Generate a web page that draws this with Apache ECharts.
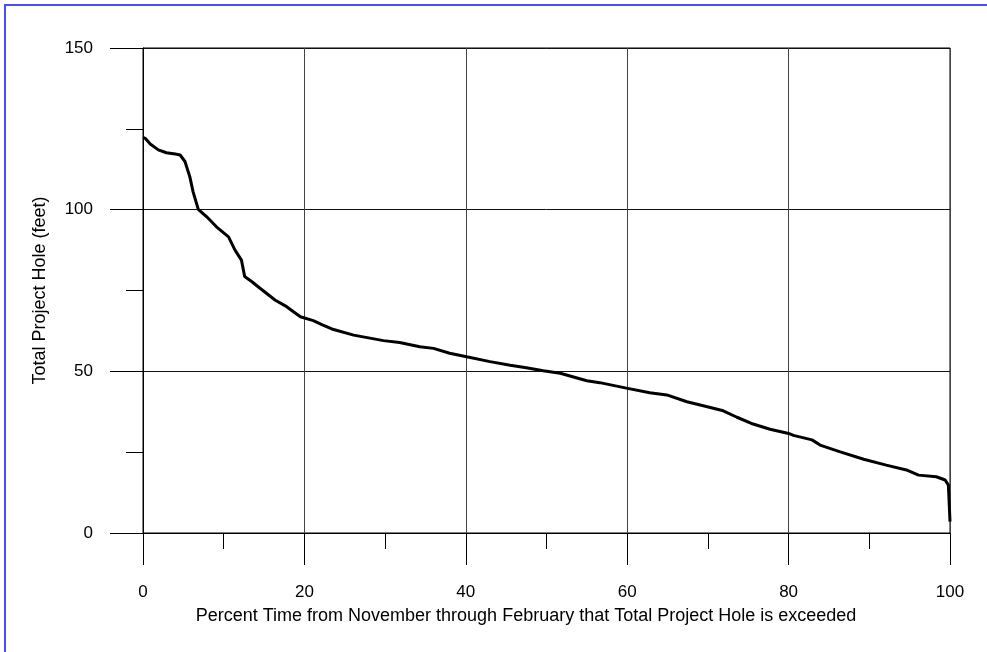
<!DOCTYPE html>
<html>
<head>
<meta charset="utf-8">
<script src="https://cdn.jsdelivr.net/npm/echarts@6/dist/echarts.min.js"></script>
<style>
html,body{margin:0;padding:0;background:#fff;}
#chart{width:987px;height:652px;}
</style>
</head>
<body>
<div id="chart"></div>
<script>
// Percent of time exceeded (x) and Total Project Hole in feet (y)
const pctTime = [0, 0.3, 0.9, 1.9, 2.9, 4.0, 4.6, 5.2, 5.8, 6.2, 6.85, 7.9, 9.1, 10.6, 11.4, 12.2, 12.6, 13.5, 14.5, 16.4, 17.8, 19.5, 21.1, 22.3, 23.4, 26.1, 29.8, 31.8, 34.3, 36.0, 38.0, 40.1, 43.0, 45.5, 47.5, 49.6, 51.7, 55.0, 56.6, 59.9, 62.8, 64.9, 67.4, 69.8, 71.9, 73.6, 75.6, 77.7, 80.0, 80.6, 82.9, 83.9, 86.4, 89.3, 92.1, 94.6, 96.1, 98.3, 99.4, 99.8, 100];
const holeFeet = [122.4, 122, 120.3, 118.5, 117.6, 117.2, 116.9, 114.9, 110.2, 105.6, 100.1, 97.8, 94.7, 91.6, 87.5, 84.4, 79.3, 77.7, 75.7, 72, 70, 66.9, 65.7, 64.3, 63.1, 61.2, 59.5, 58.9, 57.6, 57.1, 55.6, 54.5, 53.0, 51.9, 51.1, 50.2, 49.4, 47.1, 46.5, 44.8, 43.4, 42.7, 40.6, 39.1, 37.8, 35.8, 33.7, 32.1, 30.8, 30.2, 28.8, 27.2, 25.1, 22.8, 21.0, 19.5, 17.9, 17.4, 16.4, 14.8, 3.5];
const xTitle = 'Percent Time from November through February that Total Project Hole is exceeded';
const yTitle = 'Total Project Hole (feet)';

const FONT = '"Liberation Sans", Arial, sans-serif';
const chart = echarts.init(document.getElementById('chart'), null, {renderer: 'canvas'});
chart.setOption({
  animation: false,
  backgroundColor: '#fff',
  graphic: [{
    type: 'rect', z: 100,
    shape: {x: 5, y: 5, width: 3000, height: 3000},
    style: {fill: 'none', stroke: '#4a4aff', lineWidth: 2}
  }],
  title: {
    text: xTitle,
    left: 521, top: 602, textAlign: 'center',
    textStyle: {fontFamily: FONT, fontSize: 18, fontWeight: 'normal', color: '#000'}
  },
  grid: {left: 143, right: 37, top: 48, bottom: 119, show: true, borderColor: '#000', borderWidth: 1, backgroundColor: 'transparent'},
  xAxis: {
    type: 'value', min: 0, max: 100, interval: 20,
    axisLine: {show: true, onZero: false, lineStyle: {color: '#000', width: 1}},
    axisTick: {show: true, inside: false, length: 32, lineStyle: {color: '#000', width: 1}},
    minorTick: {show: true, splitNumber: 2, length: 16, lineStyle: {color: '#000', width: 1}},
    splitLine: {show: true, lineStyle: {color: '#444', width: 1}},
    axisLabel: {margin: 51, color: '#000', fontFamily: FONT, fontSize: 17}
  },
  yAxis: {
    type: 'value', min: 0, max: 150, interval: 50,
    name: yTitle, nameLocation: 'middle', nameGap: 94, nameRotate: 90,
    nameTextStyle: {fontFamily: FONT, fontSize: 18, color: '#000'},
    axisLine: {show: true, onZero: false, lineStyle: {color: '#000', width: 1}},
    axisTick: {show: true, inside: false, length: 33, lineStyle: {color: '#000', width: 1}},
    minorTick: {show: true, splitNumber: 2, length: 17, lineStyle: {color: '#000', width: 1}},
    splitLine: {show: true, lineStyle: {color: '#111', width: 1}},
    axisLabel: {margin: 50, color: '#000', fontFamily: FONT, fontSize: 17}
  },
  series: [{
    type: 'line',
    data: pctTime.map((x, i) => [x, holeFeet[i]]),
    showSymbol: false, symbol: 'none',
    lineStyle: {color: '#000', width: 3},
    z: 5
  }]
});
</script>
</body>
</html>
